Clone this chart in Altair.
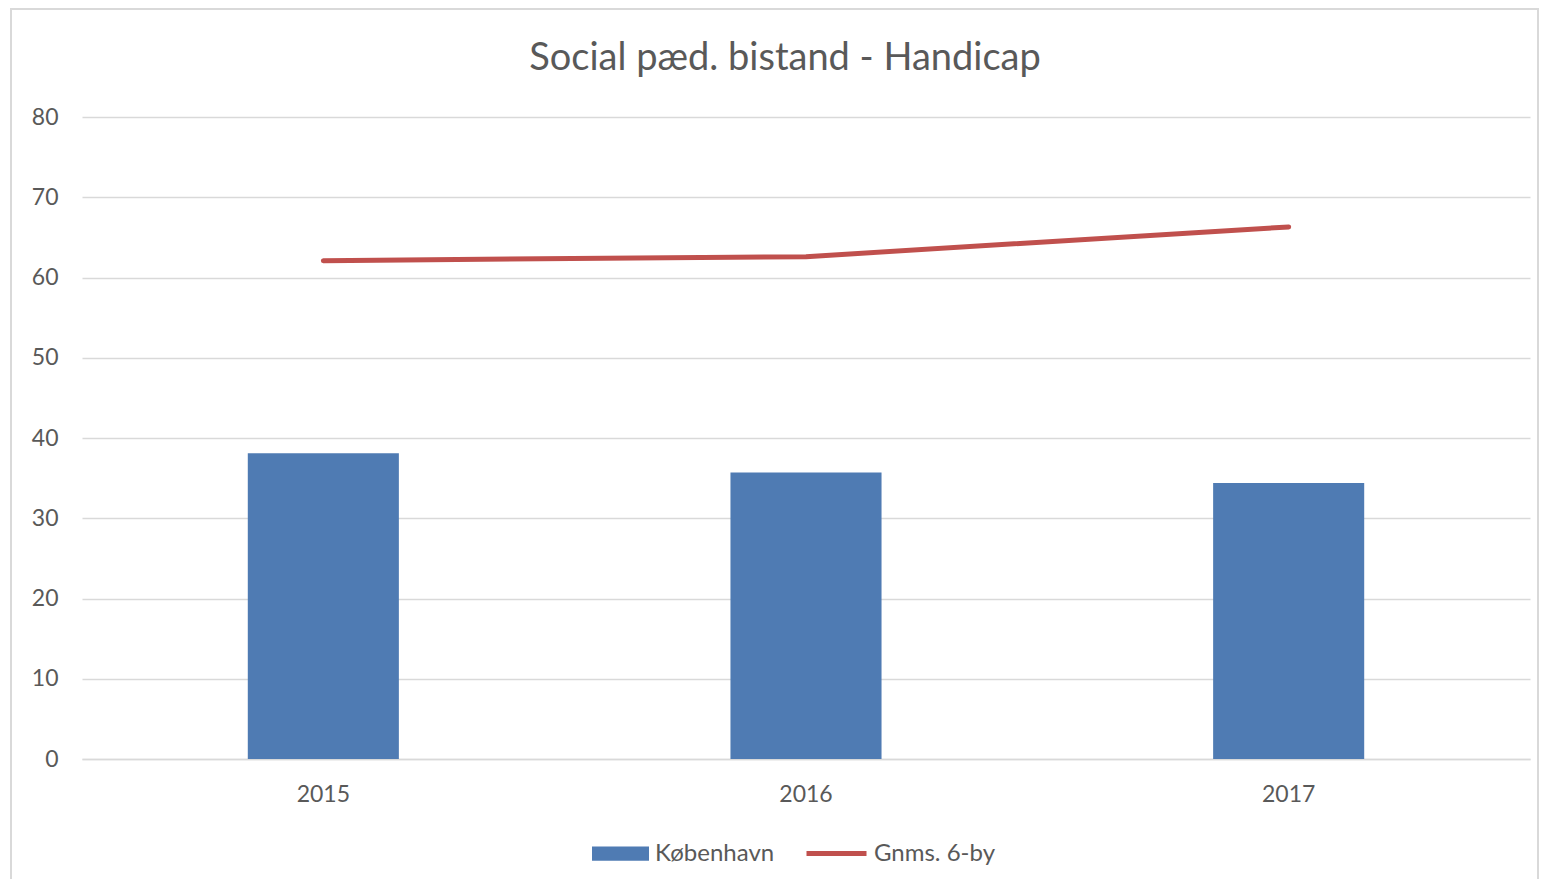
import altair as alt
import pandas as pd

years = ["2015", "2016", "2017"]
kobenhavn = [38.1, 35.7, 34.4]
gnms_6by = [62.1, 62.6, 66.3]
y_ticks = [0, 10, 20, 30, 40, 50, 60, 70, 80]

bar_name = "København"
line_name = "Gnms. 6-by"
title_text = "Social pæd. bistand - Handicap"

df = pd.DataFrame({
    "year": years,
    "kbh": kobenhavn,
    "avg": gnms_6by,
    "s1": [bar_name] * 3,
    "s2": [line_name] * 3,
})

FONT = "Lato"
TXT = "#595959"
GRID = "#D9D9D9"

x_enc = alt.X("year:O", title=None,
              scale=alt.Scale(paddingInner=0.687, paddingOuter=0.3435),
              axis=alt.Axis(labelAngle=0, ticks=False, domain=True, domainColor=GRID,
                            domainWidth=1.5, labelPadding=24, grid=False))

bars = alt.Chart(df).mark_bar(color="#4F7BB3").encode(
    x=x_enc,
    y=alt.Y("kbh:Q", title=None,
            scale=alt.Scale(domain=[0, 80], nice=False),
            axis=alt.Axis(values=y_ticks, domain=False, ticks=False, grid=True,
                          gridColor=GRID, gridWidth=1.5, labelPadding=24)),
    color=alt.Color("s1:N", scale=alt.Scale(domain=[bar_name], range=["#4F7BB3"]),
                    legend=alt.Legend(orient="none", legendX=510, legendY=708, title=None,
                                      symbolType="M-1,-0.25H1V0.25H-1Z", symbolSize=3249,
                                      symbolStrokeWidth=0, labelOffset=6)),
)

line = alt.Chart(df).mark_line(strokeWidth=5, strokeCap="round", strokeJoin="round").encode(
    x=x_enc,
    y=alt.Y("avg:Q"),
    stroke=alt.Stroke("s2:N", scale=alt.Scale(domain=[line_name], range=["#C0504D"]),
                      legend=alt.Legend(orient="none", legendX=722, legendY=704, title=None,
                                        symbolType="stroke", symbolSize=3600,
                                        symbolStrokeWidth=5, labelOffset=5)),
)

one = pd.DataFrame({"a": [0]})

border = alt.Chart(one).mark_rect(
    fill=None, stroke=GRID, strokeWidth=2
).encode(x=alt.value(-71), x2=alt.value(1456), y=alt.value(-108), y2=alt.value(800))

title = alt.Chart(one).mark_text(
    font=FONT, fontSize=38, color=TXT, align="center", baseline="alphabetic"
).encode(x=alt.value(703), y=alt.value(-47), text=alt.value(title_text))

chart = alt.layer(border, bars, line, title).resolve_scale(color="independent").properties(
    width=1448, height=642,
    background="white",
    autosize=alt.AutoSizeParams(type="none"),
    padding={"left": 74, "top": 109, "right": 10, "bottom": 120},
).configure_view(stroke=None).configure_axis(
    labelFont=FONT, labelFontSize=23, labelColor=TXT
).configure_legend(
    labelFont=FONT, labelFontSize=24, labelColor=TXT
)

chart.save("out.html", embed_options={"renderer": "svg", "actions": False})
